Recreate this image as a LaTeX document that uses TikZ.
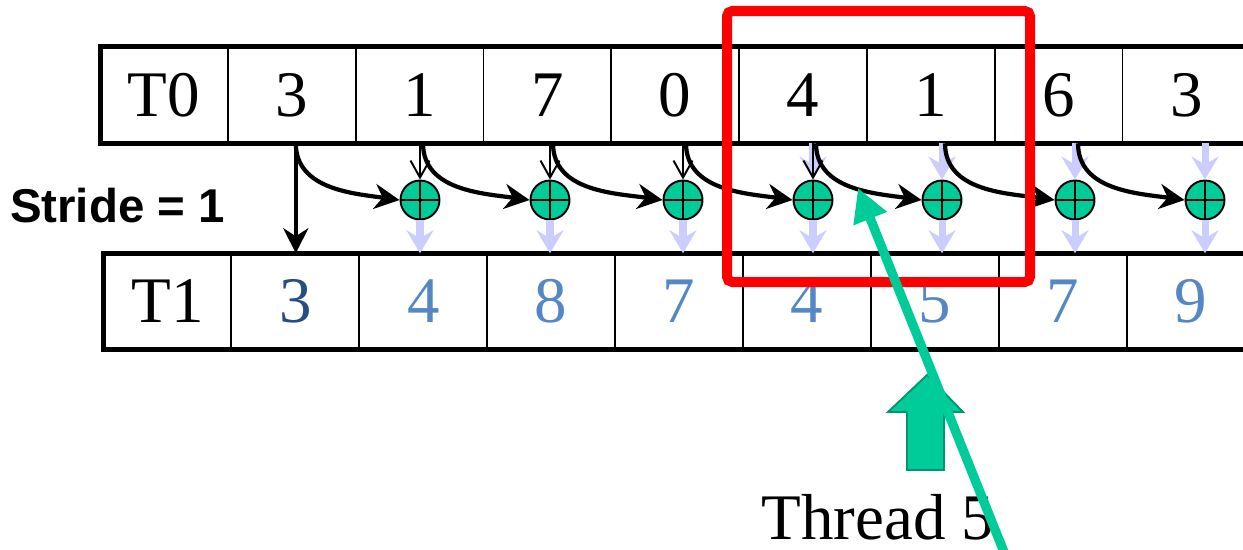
\documentclass[tikz,border=0pt]{standalone}
\usepackage{fontspec}
\setmainfont{Liberation Serif}
\newfontfamily\labelfont{Liberation Sans}
\usetikzlibrary{arrows.meta,positioning,calc}
\definecolor{sumgreen}{RGB}{0,204,153}
\definecolor{sumedge}{RGB}{0,150,110}
\definecolor{feedblue}{RGB}{204,204,255}
\definecolor{tdark}{RGB}{38,78,130}
\definecolor{tlight}{RGB}{84,135,196}
\tikzset{
  cell/.style={rectangle, draw, line width=1.1pt, minimum width=2.556cm, minimum height=1.93cm,
    inner sep=0pt, outer sep=0pt, font=\fontsize{37}{40}\selectfont},
  rowline/.style={line width=2.8pt},
  adder/.style={circle, draw, line width=1.1pt, fill=sumgreen, minimum size=0.78cm, inner sep=0pt,
    path picture={\draw[line width=0.9pt] (path picture bounding box.north) -- (path picture bounding box.south)
      (path picture bounding box.west) -- (path picture bounding box.east);}},
  carry/.style={line width=2.4pt, -{Stealth[length=0.5cm, width=0.5cm, inset=0.16cm]}},
  thinarr/.style={line width=1.1pt, -{Straight Barb[length=0.34cm, width=0.38cm, line width=1.1pt]}},
  feed/.style={feedblue, line width=4pt, -{Stealth[length=0.46cm, width=0.54cm, inset=0.16cm]}},
}
\begin{document}
\begin{tikzpicture}[x=0.02cm, y=-0.02cm]
    \useasboundingbox (0,0) rectangle (1243,549);

    % Rows T0 and T1
    \foreach \v [count=\i from 0] in {T0,3,1,7,0,4,1,6,3}
        \node[cell] (a\i) at (164+127.8*\i, 95) {\v};
    \foreach \v/\c [count=\i from 0] in {T1/black,3/tdark,4/tlight,8/tlight,7/tlight,4/tlight,5/tlight,7/tlight,9/tlight}
        \node[cell, text=\c] (b\i) at (167.5+127.9*\i, 301.5) {\v};
    \draw[rowline] (a0.north west) rectangle (a8.south east);
    \draw[rowline] (b0.north west) rectangle (b8.south east);

    % Stride label
    \node[anchor=base, font=\labelfont\bfseries\fontsize{27}{30}\selectfont] (stride) at (117.5,222) {Stride = 1};

    % Adders
    \foreach \x [count=\i] in {420,550,683,813,942,1075,1205}
        \node[adder] (p\i) at (\x,200) {};

    % Inputs and outputs of the adders
    \foreach \i in {4,...,7}
        \draw[feed] (p\i |- a1.south) -- (p\i.north);
    \foreach \i in {1,...,7}
        \draw[feed] (p\i.south) -- (p\i |- b1.north);
    \foreach \i in {1,...,4}
        \draw[thinarr] (p\i |- a1.south) -- (p\i.north);

    % Carried values
    \draw[carry] ([xshift=0.08cm]a1.south) -- ([xshift=0.08cm]a1.south |- b1.north);
    \draw[carry] ([xshift=0.08cm]a1.south) to[out=-90, in=172] (p1.west);
    \foreach \j/\i in {1/2,2/3,3/4,4/5,5/6,6/7}
        \draw[carry] ([xshift=0.06cm]p\j |- a1.south) to[out=-90, in=172] (p\i.west);

    % Highlighted thread
    \draw[red, line width=5.7pt, rounded corners=3pt] (727,11) rectangle (1030,282);

    \node[anchor=base, inner sep=0pt, font=\fontsize{37}{40}\selectfont] (thread) at (878,539) {Thread 5};
    \draw[fill=sumgreen, draw=sumedge, line width=1.1pt]
        (907,470) -- (907,412) -- (888,412) -- (927,375) -- (963,412) -- (944,412) -- (944,470) -- cycle;

    \coordinate (tip) at (858,188);
    \coordinate (tail) at (1004,552);
    \draw[sumgreen, line width=5.3pt, -{Triangle[length=0.66cm, width=0.68cm]}] (tail) -- (tip);
\end{tikzpicture}
\end{document}
